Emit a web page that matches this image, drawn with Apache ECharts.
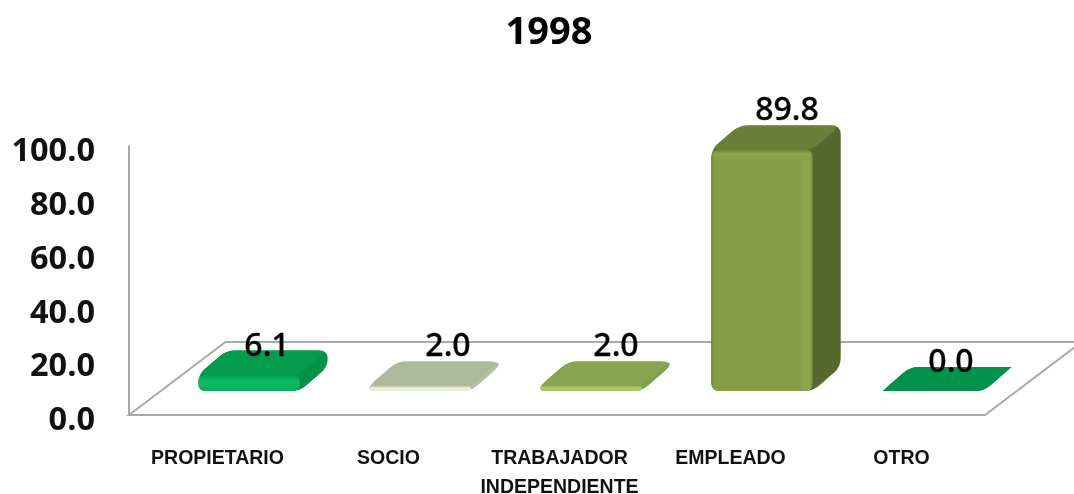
<!DOCTYPE html>
<html><head><meta charset="utf-8">
<style>html,body{margin:0;padding:0;background:#fff}#c{width:1074px;height:494px}</style>
<script src="https://cdn.jsdelivr.net/npm/echarts@6/dist/echarts.min.js"></script>
</head><body><div id="c"></div>
<script>
const chartTitle = '1998';
const categories = ['PROPIETARIO','SOCIO','TRABAJADOR\nINDEPENDIENTE','EMPLEADO','OTRO'];
const values = [6.1, 2.0, 2.0, 89.8, 0.0];
const yTicks = {min:0, max:100, interval:20};
// style tables, per bar
const frontColors = ['#07ad59','#e2ead2','#a5c265','#849d45','#00924a'];
const frontEdge   = ['#10bb66','#edf3e0','#b0cc70','#8ba74e','#00924a'];
const topColors   = ['#029c4c','#aeb89a','#8aa550','#6b7f38','#00924a'];
const sideColors  = ['#009346','#b3bd9f','#84a04c','#56682d','#00924a'];
// manual label nudges from the bar's back-top centre
const labelDx = [4, 14, 11, 11, 4];
const labelDy = [-3.5, -14.5, -14.5, -15, -4.5];

const DEPTH_X = 28, DEPTH_Y = 24, PLANE_X = 31.5, PLANE_Y = 24, BAR_RATIO = 0.593;
const FLOOR_DX = 96.5, FLOOR_DY = 73;

function roundedPoly(pts, r){
  let d = '';
  const n = pts.length;
  for(let i=0;i<n;i++){
    const p = pts[i], a = pts[(i+n-1)%n], b = pts[(i+1)%n];
    const la = Math.hypot(a[0]-p[0],a[1]-p[1]), lb = Math.hypot(b[0]-p[0],b[1]-p[1]);
    const ra = Math.min(r, la/2), rb = Math.min(r, lb/2);
    const s = [p[0]+(a[0]-p[0])*ra/(la||1), p[1]+(a[1]-p[1])*ra/(la||1)];
    const e = [p[0]+(b[0]-p[0])*rb/(lb||1), p[1]+(b[1]-p[1])*rb/(lb||1)];
    d += (i?'L':'M')+s[0]+' '+s[1]+'Q'+p[0]+' '+p[1]+' '+e[0]+' '+e[1];
  }
  return d+'Z';
}
function face(pts, r, fill){
  return {type:'path', shape:{pathData:roundedPoly(pts,r)}, style:{fill:fill}};
}
function renderFloor(params, api){
  const cs = params.coordSys;
  const fy = cs.y+cs.height, lx = cs.x-3, rx = cs.x+cs.width-2;
  return {type:'polyline', silent:true, shape:{points:[
    [cs.x+cs.width+96,fy-FLOOR_DY],[lx+FLOOR_DX,fy-FLOOR_DY],[lx,fy],[rx,fy],[rx+FLOOR_DX,fy-FLOOR_DY]
  ]}, style:{stroke:'#a9a9a9', lineWidth:2, fill:'none'}};
}
function renderBar(params, api){
  const i = api.value(0), v = api.value(1);
  const band = api.size([1,0])[0], w = band*BAR_RATIO;
  const c = api.coord([i,v]), b = api.coord([i,0]);
  const xl = c[0]+PLANE_X-w/2, xr = xl+w, yt = c[1]-PLANE_Y, yb = b[1]-PLANE_Y;
  const ch = [];
  const h = yb-yt;
  const bx = DEPTH_X, by = DEPTH_Y;
  const Grad = echarts.graphic.LinearGradient;
  // whole silhouette in the side colour, so the faces merge as one rounded block
  ch.push(face([[xl,yt],[xl+bx,yt-by],[xr+bx,yt-by],[xr+bx,yb-by],[xr,yb],[xl,yb]],9,sideColors[i]));
  ch.push(face([[xl,yt],[xl+bx,yt-by],[xr+bx,yt-by],[xr,yt]],9,topColors[i]));
  if(h>0 && h<30){
    ch.push(face([[xl,yt],[xr,yt],[xr,yb],[xl,yb]],Math.min(7,h/2),new Grad(0,0,0,1,[
      {offset:0,color:topColors[i]},{offset:0.45,color:frontEdge[i]},{offset:1,color:frontColors[i]}])));
  } else if(h>0){
    ch.push(face([[xl,yt],[xr,yt],[xr,yb],[xl,yb]],8,new Grad(0,0,1,0,[
      {offset:0,color:'#768c3c'},{offset:0.03,color:frontColors[i]},{offset:0.87,color:frontColors[i]},
      {offset:0.9,color:frontEdge[i]},{offset:0.97,color:frontEdge[i]},{offset:1,color:'#768c3c'}])));
    ch.push(face([[xl+2,yt],[xr-2,yt],[xr-2,yt+11],[xl+2,yt+11]],4,new Grad(0,0,0,1,[
      {offset:0,color:topColors[i]},{offset:0.45,color:frontEdge[i]},{offset:1,color:frontColors[i]}])));
  }
  ch.push({type:'text', z2:100, style:{
    text:values[i].toFixed(1), x:(xl+xr)/2+DEPTH_X/2+labelDx[i], y:yt-DEPTH_Y+labelDy[i],
    fill:'#000', stroke:'#000', lineWidth:0.3, font:'500 32px "Noto Sans"', align:'center', verticalAlign:'middle'}});
  return {type:'group', children:ch};
}
const chart = echarts.init(document.getElementById('c'),null,{renderer:'canvas'});
chart.setOption({
  animation:false,
  backgroundColor:'#fff',
  title:{text:chartTitle,left:544,top:9,textAlign:'center',
    textStyle:{fontFamily:'Open Sans',fontWeight:'bold',fontSize:38,color:'#000'}},
  grid:{left:132,top:146,width:855,height:269,containLabel:false,outerBoundsMode:'none'},
  xAxis:{type:'category',data:categories,
    axisLine:{show:false},axisTick:{show:false},
    axisLabel:{interval:0,margin:29,lineHeight:29,color:'#111',
      fontFamily:'Liberation Sans',fontWeight:'bold',fontSize:19.5}},
  yAxis:{type:'value',min:yTicks.min,max:yTicks.max,interval:yTicks.interval,offset:3,
    splitLine:{show:false},axisTick:{show:false},
    axisLine:{show:true,lineStyle:{color:'#a9a9a9',width:2}},
    axisLabel:{margin:34,color:'#111',verticalAlign:'top',lineHeight:12,
      fontFamily:'Open Sans',fontWeight:'bold',fontSize:32.5,formatter:v=>v.toFixed(1)}},
  series:[
    {type:'custom',name:'floor',renderItem:renderFloor,data:[[0,0]],z:1,silent:true,clip:false},
    {type:'custom',name:'1998',renderItem:renderBar,encode:{x:0,y:1},
     data:values.map((v,i)=>[i,v]),z:2,clip:false}
  ]
});
</script></body></html>
